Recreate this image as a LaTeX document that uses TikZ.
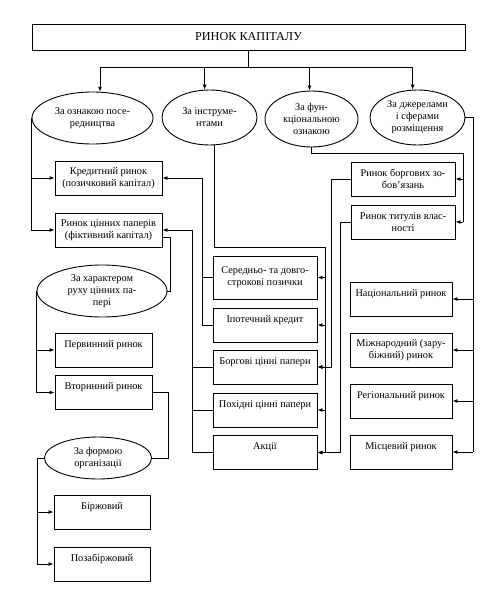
\documentclass[tikz,border=0pt]{standalone}
\usepackage{fontspec}
\setmainfont{Liberation Serif}
\usetikzlibrary{arrows.meta,shapes.geometric,calc}

\begin{document}
\begin{tikzpicture}[x=1pt,y=-1pt,>={Latex[length=5pt,width=4pt]},line width=0.9pt,
  font=\fontsize{10.3}{12}\selectfont,
  box/.style={draw,align=center,minimum width=#1,minimum height=34pt,inner sep=2pt},
  box/.default=104pt,
  onebox/.style={box=#1,text height=11pt,text depth=17pt,inner ysep=3pt},
  onebox/.default=104pt,
  oval/.style={draw,ellipse,align=center,inner sep=0pt}]
  \useasboundingbox (0,0) rectangle (496,594);
  \node[draw,minimum width=433pt,minimum height=26pt,font=\fontsize{12.2}{14}\selectfont] (root) at (248.5,37) {РИНОК КАПІТАЛУ};

  \node[oval,minimum width=121pt,minimum height=52pt] (e1) at (92.5,118) {За ознакою посе-\\редництва};
  \node[oval,minimum width=95pt,minimum height=55pt] (e2) at (209.5,117.5) {За інструме-\\нтами};
  \node[oval,minimum width=93pt,minimum height=56pt] (e3) at (311.5,119) {За фун-\\кціональною\\ознакою};
  \node[oval,minimum width=95pt,minimum height=55pt] (e4) at (417.5,117.5) {За джерелами\\і сферами\\розміщення};

  \node[box=107pt] (kred) at (108.5,178) {Кредитний ринок\\(позичковий капітал)};
  \node[box=107pt] (cinn) at (108.5,230) {Ринок цінних паперів\\(фіктивний капітал)};
  \node[oval,minimum width=130pt,minimum height=52pt] (rukh) at (102,291) {За характером\\руху цінних па-\\пері};
  \node[onebox=97pt] (perv) at (103.5,350) {Первинний ринок};
  \node[onebox=97pt] (vtor) at (103.5,392.5) {Вторинний ринок};
  \node[oval,minimum width=107pt,minimum height=42pt] (forma) at (98,458) {За формою\\організації};
  \node[onebox=96pt] (birzh) at (102,512) {Біржовий};
  \node[onebox=96pt] (pozab) at (102,564) {Позабіржовий};

  \node[box,minimum height=43pt] (ser) at (265,277.5) {Середньо- та довго-\\строкові позички};
  \node[onebox] (ipot) at (265,325) {Іпотечний кредит};
  \node[onebox] (borg) at (265,367) {Боргові цінні папери};
  \node[onebox] (pokh) at (265,410) {Похідні цінні папери};
  \node[onebox] (akc) at (265,452.5) {Акції};

  \node[box] (rbz) at (403,179) {Ринок боргових зо-\\бов’язань};
  \node[box] (rtv) at (403,222) {Ринок титулів влас-\\ності};
  \node[onebox=102pt] (nac) at (401,299) {Національний ринок};
  \node[box=102pt] (mizh) at (401,350) {Міжнародний (зару-\\біжний) ринок};
  \node[onebox=102pt] (reg) at (401,401) {Регіональний ринок};
  \node[onebox=102pt] (misc) at (401,452) {Місцевий ринок};

  \draw (root.south) -- ++(0,17) coordinate (hub);
  \draw (hub -| e1.74) -- (hub -| e4.100);
  \foreach \e/\a in {e1/74,e2/100,e3/94,e4/100}{
    \draw[->] (hub -| \e.\a) -- (\e.\a);
  }

  \draw[->] (e1.west) |- (kred.west);
  \draw[->] (e1.west) |- (cinn.west);
  \draw[->] (ipot.west) -- ++(-10,0) |- (kred.east);
  \draw (ser.west) -- ++(-10,0);
  \draw[->] (akc.west) -- ++(-20,0) |- (cinn.east);
  \foreach \b in {borg,pokh}{
    \draw (\b.west) -- ++(-20,0);
  }

  \coordinate (mid) at (325,247);
  \draw (e2.280) |- (mid) -- (mid |- akc.east);
  \foreach \b in {ser,ipot,borg,pokh,akc}{
    \draw[->] (mid |- \b.east) -- (\b.east);
  }
  \draw[->] (rbz.west) -- ++(-19,0) |- (borg.east);
  \draw[->] (rtv.west) -- ++(-10,0) |- (akc.east);

  \coordinate (fun) at (463,153);
  \draw (e3.south) |- (fun) -- (fun |- rtv.east);
  \foreach \b in {rbz,rtv}{
    \draw[->] (fun |- \b.east) -- (\b.east);
  }
  \path (e4.east) ++(8,0) coordinate (dzh);
  \draw (e4.east) -- (dzh) -- (dzh |- misc.east);
  \foreach \b in {nac,mizh,reg,misc}{
    \draw[->] (dzh |- \b.east) -- (\b.east);
  }

  \draw ($(cinn.east)+(0,7)$) -- ++(8,0) |- (rukh.east);
  \draw[->] (rukh.west) |- (perv.west);
  \draw[->] (rukh.west) |- (vtor.west);
  \draw (vtor.east) -- ++(16,0) |- (forma.east);
  \draw[->] (forma.west) -- ++(-7,0) |- (birzh.west);
  \draw[->] (forma.west) -- ++(-7,0) |- (pozab.west);
\end{tikzpicture}
\end{document}
